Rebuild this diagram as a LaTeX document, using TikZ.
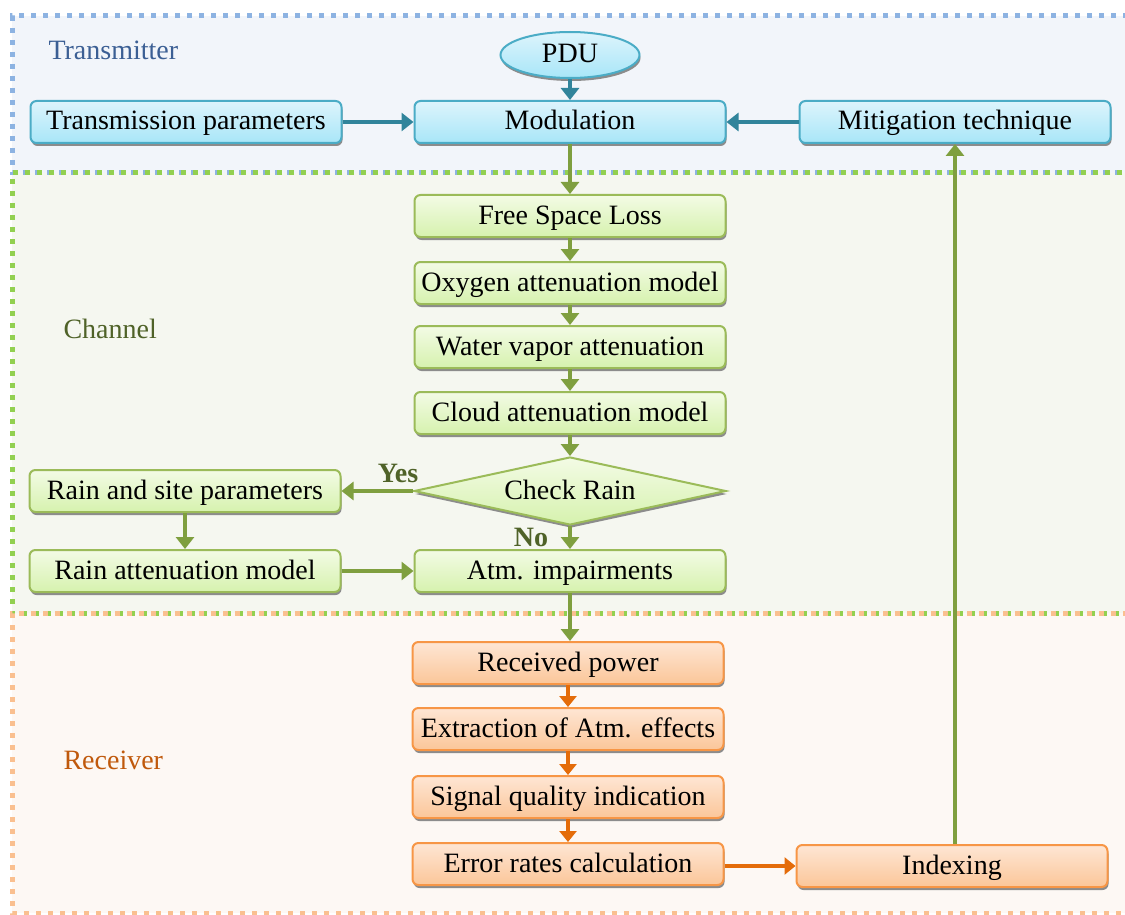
\documentclass[tikz,border=0pt]{standalone}
\usepackage{fontspec}
\setmainfont{Liberation Serif}
\usetikzlibrary{shapes.geometric,shadows,arrows.meta}

\definecolor{txblue}{HTML}{8DB3E2}
\definecolor{chgreen}{HTML}{92D050}
\definecolor{rxorange}{HTML}{FAC090}
\definecolor{txfill}{HTML}{F2F5FA}
\definecolor{chfill}{HTML}{F5F7F0}
\definecolor{rxfill}{HTML}{FDF8F4}
\definecolor{txlabel}{HTML}{3C5F94}
\definecolor{chlabel}{HTML}{4F6228}
\definecolor{rxlabel}{HTML}{C0590C}
\definecolor{bluedge}{HTML}{4BACC6}
\definecolor{bluetop}{HTML}{DDF4FC}
\definecolor{bluebot}{HTML}{A8E6F8}
\definecolor{grnedge}{HTML}{9BBB59}
\definecolor{grntop}{HTML}{F3FBE5}
\definecolor{grnbot}{HTML}{D6F2AE}
\definecolor{orgedge}{HTML}{F79646}
\definecolor{orgtop}{HTML}{FEE6D4}
\definecolor{orgbot}{HTML}{FBC699}
\definecolor{tealarrow}{HTML}{31849B}
\definecolor{grnarrow}{HTML}{7F9F3F}
\definecolor{orgarrow}{HTML}{E46C0A}

\tikzset{
  boxbase/.style={rectangle, rounded corners=6pt, line width=2pt,
    minimum width=311pt, minimum height=42pt, inner sep=0pt,
    text height=20pt, text depth=4pt,
    font=\fontsize{28}{32}\selectfont,
    drop shadow={shadow xshift=1pt, shadow yshift=-3pt, fill=black!45, opacity=1}},
  bluebox/.style={boxbase, draw=bluedge, top color=bluetop, bottom color=bluebot},
  greenbox/.style={boxbase, draw=grnedge, top color=grntop, bottom color=grnbot},
  orangebox/.style={boxbase, draw=orgedge, top color=orgtop, bottom color=orgbot},
  tealflow/.style={draw=tealarrow, line width=4.5pt,
    -{Triangle[length=12pt,width=18pt]}},
  greenflow/.style={draw=grnarrow, line width=4.5pt,
    -{Triangle[length=12pt,width=18pt]}},
  orangeflow/.style={draw=orgarrow, line width=4.5pt,
    -{Triangle[length=11pt,width=17pt]}},
  regionlabel/.style={font=\fontsize{28}{32}\selectfont, anchor=west},
  decision/.style={font=\fontsize{28}{32}\selectfont\bfseries, text=chlabel},
  dotborder/.style={line width=5pt, dash pattern=on 5pt off 7pt}
}

\begin{document}
\begin{tikzpicture}[x=1pt, y=-1pt]
\useasboundingbox (0,0) rectangle (1125,915);

% region backgrounds
\fill[txfill] (12,16) rectangle (1140,173);
\fill[chfill] (12,173) rectangle (1140,613);
\fill[rxfill] (12,613) rectangle (1140,913);

% dotted region borders
\draw[dotborder, txblue] (1140,16) -- (12,16) -- (12,173) -- (1140,173);
\draw[dotborder, chgreen, dash phase=6pt] (1140,173) -- (12,173) -- (12,613) -- (1140,613);
\draw[dotborder, rxorange] (1140,613) -- (12,613) -- (12,913) -- (1140,913);

% region titles
\node[regionlabel, text=txlabel] (lblTx) at (45,50) {Transmitter};
\node[regionlabel, text=chlabel] (lblCh) at (60,329) {Channel};
\node[regionlabel, text=rxlabel] (lblRx) at (60,760) {Receiver};

% transmitter
\node[bluebox, ellipse, minimum width=139pt, minimum height=46pt] (pdu) at (570,55) {PDU};
\node[bluebox] (mod) at (570,122) {Modulation};
\node[bluebox] (txpar) at (186,122) {Transmission parameters};
\node[bluebox] (mitig) at (955,122) {Mitigation technique};

% channel
\node[greenbox] (fsl) at (570,216) {Free Space Loss};
\node[greenbox] (oxy) at (570,283) {Oxygen attenuation model};
\node[greenbox] (wat) at (570,347) {Water vapor attenuation};
\node[greenbox] (cld) at (570,413) {Cloud attenuation model};
\node[greenbox, diamond, aspect=4.5, rounded corners=0pt, minimum width=312pt, minimum height=68pt] (chk) at (570,491) {Check Rain};
\node[greenbox] (site) at (185,491) {Rain and site parameters};
\node[greenbox] (rain) at (185,571) {Rain attenuation model};
\node[greenbox] (atm) at (570,571) {Atm. impairments};

% receiver
\node[orangebox] (rxp) at (568,663) {Received power};
\node[orangebox] (ext) at (568,729) {Extraction of Atm. effects};
\node[orangebox] (sig) at (568,797) {Signal quality indication};
\node[orangebox] (err) at (568,864) {Error rates calculation};
\node[orangebox] (idx) at (952,866) {Indexing};

% transmitter connectors
\draw[tealflow] (pdu) -- (mod);
\draw[tealflow] (txpar) -- (mod);
\draw[tealflow] (mitig) -- (mod);

% channel connectors
\draw[greenflow] (mod) -- (fsl);
\draw[greenflow] (fsl) -- (oxy);
\draw[greenflow] (oxy) -- (wat);
\draw[greenflow] (wat) -- (cld);
\draw[greenflow] (cld) -- (chk);
\draw[greenflow] (chk.west) -- (site.east);
\draw[greenflow] (chk.south) -- (atm);
\draw[greenflow] (site) -- (rain);
\draw[greenflow] (rain) -- (atm);
\draw[greenflow] (atm) -- (rxp.north -| atm);

% receiver connectors
\draw[orangeflow] (rxp) -- (ext);
\draw[orangeflow] (ext) -- (sig);
\draw[orangeflow] (sig) -- (err);
\draw[orangeflow] (err.east |- idx.west) -- (idx.west);
\draw[greenflow] (mitig.south |- idx.north) -- (mitig.south);

% decision labels
\node[decision] (yes) at (398,473) {Yes};
\node[decision] (no) at (531,537) {No};
\end{tikzpicture}
\end{document}
